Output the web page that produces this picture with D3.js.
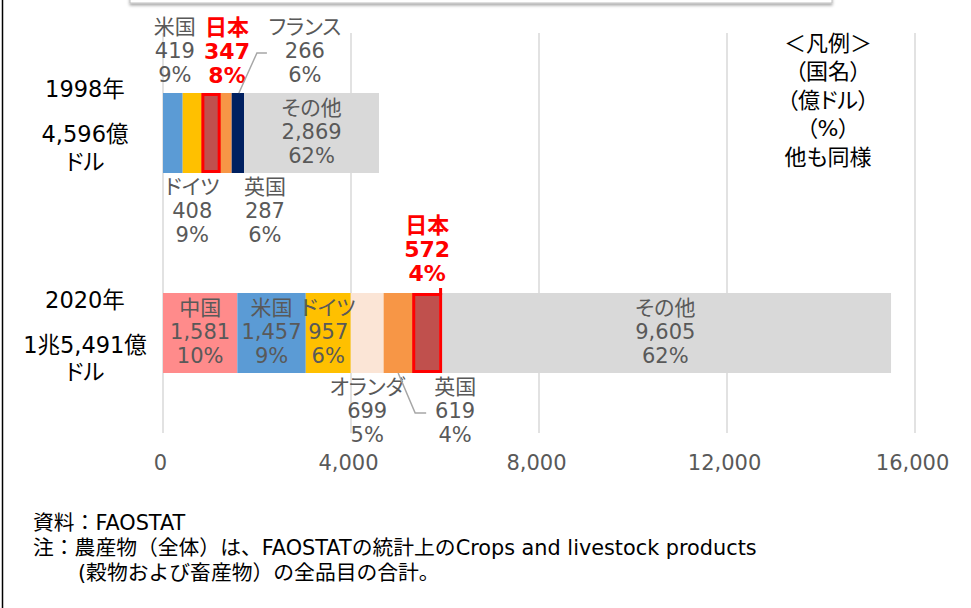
<!DOCTYPE html>
<html>
<head>
<meta charset="utf-8">
<script src="https://cdn.jsdelivr.net/npm/d3@7"></script>
<style>
  html, body { margin: 0; padding: 0; background: #ffffff; }
  svg { display: block; }
  text { font-family: "DejaVu Sans", "Noto Sans CJK JP", sans-serif; }
  .palt { font-feature-settings: "palt" 1; }
</style>
</head>
<body>
<svg id="chart" width="971" height="608"></svg>
<script>
// ---------------- data ----------------
const yearLabels = ["1998年", "2020年"];
const totalLabels = ["4,596億", "1兆5,491億"];
const unitLabel = "ドル";

const countries1998 = ["米国", "ドイツ", "日本", "英国", "フランス", "その他"];
const values1998    = [419, 408, 347, 287, 266, 2869];
const shares1998    = [9, 9, 8, 6, 6, 62];

const countries2020 = ["中国", "米国", "ドイツ", "オランダ", "英国", "日本", "その他"];
const values2020    = [1581, 1457, 957, 699, 619, 572, 9605];
const shares2020    = [10, 9, 6, 5, 4, 4, 62];

const xTicks = [0, 4000, 8000, 12000, 16000];

const legendLines = ["＜凡例＞", "（国名）", "（億ドル）", "（%）", "他も同様"];
const noteLines = [
  "資料：FAOSTAT",
  "注：農産物（全体）は、FAOSTATの統計上のCrops and livestock products",
  "(穀物および畜産物）の全品目の合計。"
];

// ---------------- styles ----------------
const colorOf = {
  "米国": "#5B9BD5",
  "ドイツ": "#FFC000",
  "日本": "#C0504D",
  "英国": "#F79646",
  "フランス": "#002060",
  "その他": "#D9D9D9",
  "中国": "#FF8B8B",
  "オランダ": "#FBE5D6"
};
const labelGrey = "#595959";
const red = "#FF0000";

// label placement per segment (layout, not data)
const place1998 = [
  {pos: "top", dx: 2},
  {pos: "bottom", dx: 0},
  {pos: "top", dx: 17},
  {pos: "bottom", dx: 40},
  {pos: "top", dx: 67, leader: true},
  {pos: "inside", dx: 0}
];
const place2020 = [
  {pos: "inside", dx: 0},
  {pos: "inside", dx: 0},
  {pos: "inside", dx: 0},
  {pos: "bottom", dx: 0},
  {pos: "bottom", dx: 57, leader: true},
  {pos: "top", dx: 1, dy: -2},
  {pos: "inside", dx: 0}
];
const sideLabelOffsets = [[-44, 1, 29], [-33, 12, 39]];

// ---------------- build ----------------
const svg = d3.select("#chart");

// frame: left border line and top box edge with shadow
const defs = svg.append("defs");
const f = defs.append("filter").attr("id", "shadow").attr("x", "-5%").attr("y", "-50%").attr("width", "110%").attr("height", "250%");
f.append("feDropShadow").attr("dx", 0).attr("dy", 2).attr("stdDeviation", 1.5).attr("flood-color", "#000").attr("flood-opacity", 0.35);
svg.append("rect").attr("x", 130).attr("y", -30).attr("width", 702).attr("height", 33)
  .attr("fill", "#ffffff").attr("stroke", "#bfbfbf").attr("stroke-width", 1)
  .attr("filter", "url(#shadow)");
svg.append("line").attr("x1", 2.5).attr("x2", 2.5).attr("y1", 0).attr("y2", 608)
  .attr("stroke", "#000").attr("stroke-width", 1.5);

const x = d3.scaleLinear().domain([0, 16000]).range([163, 915]);
const y = d3.scaleBand().domain(yearLabels).range([33, 433]).paddingInner(0.6).paddingOuter(0.3);

// gridlines
svg.append("g").selectAll("line").data(xTicks).join("line")
  .attr("x1", d => x(d)).attr("x2", d => x(d))
  .attr("y1", 33).attr("y2", 433)
  .attr("stroke", "#D9D9D9").attr("stroke-width", 1.5);

// axis tick labels
const axis = d3.axisBottom(x).tickValues(xTicks).tickFormat(d3.format(",")).tickSize(0).tickPadding(0);
const axG = svg.append("g").attr("transform", "translate(-3,463)").call(axis);
axG.select(".domain").remove();
axG.selectAll("text").attr("font-size", 21).attr("fill", labelGrey)
  .attr("dy", null).attr("dominant-baseline", "central")
  .style("font-family", "'DejaVu Sans', 'Noto Sans CJK JP', sans-serif");

const fmt = d3.format(",");
const lineGap = 24;

function drawYear(yi, names, values, shares, place) {
  const key = yearLabels[yi];
  const top = y(key), bh = y.bandwidth(), bottom = top + bh, cy = top + bh / 2;
  let cum = 0;
  const segs = names.map((n, i) => {
    const s = {name: n, value: values[i], share: shares[i], x0: cum, x1: cum + values[i], place: place[i]};
    cum += values[i];
    return s;
  });
  const g = svg.append("g");
  g.selectAll("rect.seg").data(segs).join("rect").attr("class", "seg")
    .attr("x", d => x(d.x0)).attr("width", d => x(d.x1) - x(d.x0))
    .attr("y", top).attr("height", bh)
    .attr("fill", d => colorOf[d.name]);

  // Japan highlight
  const jp = segs.find(d => d.name === "日本");
  g.append("rect")
    .attr("x", x(jp.x0) + 1).attr("width", x(jp.x1) - x(jp.x0))
    .attr("y", top + 1.5).attr("height", bh - 3)
    .attr("fill", "none").attr("stroke", red).attr("stroke-width", 3);

  segs.forEach(d => {
    const p = d.place;
    const segC = x((d.x0 + d.x1) / 2);
    const cx = segC + p.dx;
    let y0;
    if (p.pos === "top") y0 = top - 18 + (p.dy || 0) - 2 * lineGap;
    else if (p.pos === "bottom") y0 = bottom + 14;
    else y0 = cy - 1.5 - lineGap;
    const isJp = d.name === "日本";
    const lines = [d.name, fmt(d.value), d.share + "%"];
    const t = g.append("text").attr("class", "palt").attr("text-anchor", "middle")
      .attr("font-size", isJp ? 22 : 21)
      .attr("fill", isJp ? red : labelGrey)
      .attr("font-weight", isJp ? "bold" : "normal");
    lines.forEach((l, k) => {
      t.append("tspan").attr("x", cx).attr("y", y0 + k * lineGap)
        .attr("dominant-baseline", "central").text(l);
    });
    if (p.leader) {
      let pts;
      if (p.pos === "top") {
        pts = [[cx - 38, top - 40], [cx - 48, top - 40], [segC + 1, top]];
      } else {
        pts = [[segC, bottom], [cx - 40, bottom + 40], [cx - 29, bottom + 40]];
      }
      g.append("path").attr("d", d3.line()(pts))
        .attr("fill", "none").attr("stroke", "#A6A6A6").attr("stroke-width", 1.5);
    }
    if (isJp && p.pos === "top" && yi === 1) {
      g.append("line").attr("x1", x(d.x1) + 1).attr("x2", x(d.x1) + 1)
        .attr("y1", top - 5).attr("y2", top + 2)
        .attr("stroke", red).attr("stroke-width", 3);
    }
  });

  // side labels
  const off = sideLabelOffsets[yi];
  const side = [yearLabels[yi], totalLabels[yi], unitLabel];
  side.forEach((s, k) => {
    svg.append("text").attr("class", "palt").attr("x", 85).attr("y", cy + off[k])
      .attr("text-anchor", "middle").attr("dominant-baseline", "central")
      .attr("font-size", 22.5).attr("fill", "#000").text(s);
  });
}

drawYear(0, countries1998, values1998, shares1998, place1998);
drawYear(1, countries2020, values2020, shares2020, place2020);

// legend note
const lg = svg.append("text").attr("class", "palt").attr("text-anchor", "middle").attr("font-size", 22).attr("fill", "#000");
legendLines.forEach((l, k) => {
  lg.append("tspan").attr("x", 828).attr("y", 43 + k * 28.5).attr("dominant-baseline", "central").text(l);
});

// footnotes
const noteX = [33, 33, 78];
noteLines.forEach((l, k) => {
  svg.append("text").attr("x", noteX[k]).attr("y", 523 + k * 25)
    .attr("dominant-baseline", "central").attr("font-size", 20.8).attr("fill", "#000").text(l);
});
</script>
</body>
</html>
